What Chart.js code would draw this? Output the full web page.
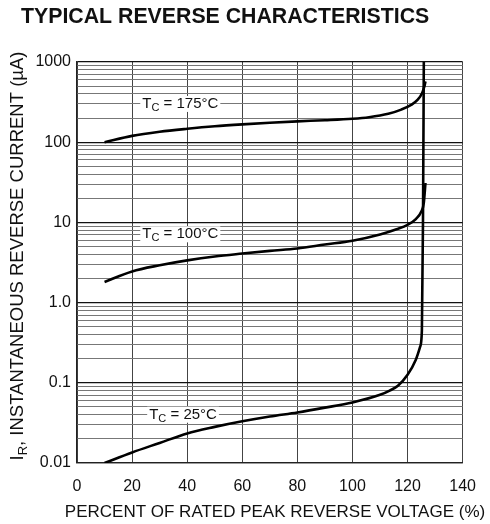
<!DOCTYPE html>
<html>
<head>
<meta charset="utf-8">
<script src="https://cdn.jsdelivr.net/npm/chart.js@4.4.1/dist/chart.umd.min.js"></script>
<style>
  body { margin: 0; background: #fff; }
  canvas { display: block; }
</style>
</head>
<body>
<canvas id="grafico" width="490" height="524"></canvas>
<script>
// values (x = % of rated voltage, y = current in uA)
const tensao175 = [10, 20, 30, 40, 50, 60, 70, 80, 90, 100, 106, 113, 117.7, 121.3, 123.7, 125.3, 126.1, 126.5];
const corrente175 = [100, 120, 135, 147, 158, 167, 175, 182, 188, 196, 205, 226, 255, 292, 339, 410, 497, 573];

const tensao100 = [10, 20, 30, 40, 50, 60, 70, 80, 90, 100, 110, 116, 120, 123, 125, 125.9, 126.5];
const corrente100 = [1.81, 2.45, 2.92, 3.36, 3.76, 4.09, 4.42, 4.73, 5.3, 5.92, 7.08, 8.22, 9.33, 11, 13.7, 17.5, 31];

const tensao25 = [10, 20, 30, 40, 50, 60, 70, 80, 90, 100, 110, 113.5, 116.5, 120, 123, 124.6, 125.2, 125.6, 125.9];
const corrente25 = [0.01, 0.01355, 0.0178, 0.0234, 0.0282, 0.0331, 0.038, 0.0427, 0.049, 0.0569, 0.0708, 0.08, 0.092, 0.126, 0.194, 0.284, 0.45, 10, 1000];

const rotulosCurvas = ["175°C", "100°C", "25°C"];
const posRotulos = [[37.5, 300], [37.5, 7.1], [38.5, 0.04]];

const decadas = [0.01, 0.1, 1, 10, 100, 1000];
const rotulosY = ["0.01", "0.1", "1.0", "10", "100", "1000"];

const fonte = '"Liberation Sans", Arial, sans-serif';

function pontos(xs, ys) {
    return xs.map((x, i) => ({ x: x, y: ys[i] }));
}

function serie(xs, ys) {
    return {
        data: pontos(xs, ys),
        borderColor: "#000",
        borderWidth: 2.6,
        pointRadius: 0,
        cubicInterpolationMode: "monotone",
        fill: false
    };
}

// grid values for the log axis: 1..9 in each decade
const gradeY = [];
decadas.forEach((d, i) => {
    if (i === decadas.length - 1) { gradeY.push(d); return; }
    for (let k = 1; k <= 9; k++) {
        gradeY.push(parseFloat((d * k).toPrecision(12)));
    }
});

function ehDecada(v) {
    return decadas.some(d => Math.abs(d - v) < d * 1e-6);
}

const textos = {
    id: "textos",
    afterDatasetsDraw(chart) {
        const ctx = chart.ctx;
        const sx = chart.scales.x;
        const sy = chart.scales.y;
        ctx.save();
        ctx.fillStyle = "#111";

        // curve labels with white boxes
        rotulosCurvas.forEach((txt, i) => {
            const px = sx.getPixelForValue(posRotulos[i][0]);
            const py = sy.getPixelForValue(posRotulos[i][1]);
            ctx.font = "15px " + fonte;
            const wT = ctx.measureText("T").width;
            ctx.font = "11px " + fonte;
            const wC = ctx.measureText("C").width;
            ctx.font = "15px " + fonte;
            const resto = " = " + txt;
            const wR = ctx.measureText(resto).width;
            const larg = wT + wC + wR;
            const x0 = px - larg / 2;
            ctx.fillStyle = "#fff";
            ctx.fillRect(x0 - 2, py - 8, larg + 4, 16);
            ctx.fillStyle = "#111";
            ctx.textBaseline = "middle";
            ctx.textAlign = "left";
            ctx.fillText("T", x0, py);
            ctx.font = "11px " + fonte;
            ctx.fillText("C", x0 + wT, py + 4);
            ctx.font = "15px " + fonte;
            ctx.fillText(resto, x0 + wT + wC, py);
        });

        // chart title
        ctx.font = "bold 21.3px " + fonte;
        ctx.textAlign = "left";
        ctx.textBaseline = "alphabetic";
        ctx.fillText("TYPICAL REVERSE CHARACTERISTICS", 21, 23);

        // x axis title
        ctx.font = "17px " + fonte;
        ctx.textAlign = "center";
        ctx.fillText("PERCENT OF RATED PEAK REVERSE VOLTAGE (%)", 275, 517);

        // y axis title with subscript R
        ctx.translate(23, 256);
        ctx.rotate(-Math.PI / 2);
        ctx.textAlign = "left";
        const t1 = "I";
        const t3 = ", INSTANTANEOUS REVERSE CURRENT (µA)";
        ctx.font = "18.5px " + fonte;
        const w1 = ctx.measureText(t1).width;
        const w3 = ctx.measureText(t3).width;
        ctx.font = "13px " + fonte;
        const w2 = ctx.measureText("R").width;
        const ini = -(w1 + w2 + w3) / 2;
        ctx.font = "18.5px " + fonte;
        ctx.fillText(t1, ini, 0);
        ctx.font = "13px " + fonte;
        ctx.fillText("R", ini + w1, 4);
        ctx.font = "18.5px " + fonte;
        ctx.fillText(t3, ini + w1 + w2, 0);
        ctx.restore();
    }
};

const grafico = new Chart(document.getElementById("grafico"), {
    type: "line",
    data: {
        datasets: [
            serie(tensao175, corrente175),
            serie(tensao100, corrente100),
            serie(tensao25, corrente25)
        ]
    },
    options: {
        responsive: false,
        animation: false,
        layout: { padding: { top: 62, right: 24, left: 0, bottom: 0 } },
        plugins: {
            legend: { display: false },
            tooltip: { enabled: false }
        },
        scales: {
            x: {
                type: "linear",
                min: 0,
                max: 140,
                afterFit: scale => { scale.height = 61; },
                ticks: {
                    stepSize: 20,
                    padding: 14,
                    color: "#111",
                    font: { size: 16, family: fonte }
                },
                grid: { color: "#444", lineWidth: 1, drawTicks: false },
                border: { color: "#222", width: 1.2 }
            },
            y: {
                type: "logarithmic",
                min: 0.01,
                max: 1000,
                afterFit: scale => { scale.width = 77; },
                afterBuildTicks: scale => {
                    scale.ticks = gradeY.map(v => ({ value: v }));
                },
                ticks: {
                    autoSkip: false,
                    padding: 6,
                    color: "#111",
                    font: { size: 16, family: fonte },
                    callback: function (v) {
                        const i = decadas.findIndex(d => Math.abs(d - v) < d * 1e-6);
                        return i >= 0 ? rotulosY[i] : "";
                    }
                },
                grid: {
                    drawTicks: false,
                    color: c => ehDecada(c.tick.value) ? "#111" : "#777",
                    lineWidth: c => ehDecada(c.tick.value) ? 1.3 : 1
                },
                border: { color: "#222", width: 1.2 }
            }
        }
    },
    plugins: [textos]
});
</script>
</body>
</html>
